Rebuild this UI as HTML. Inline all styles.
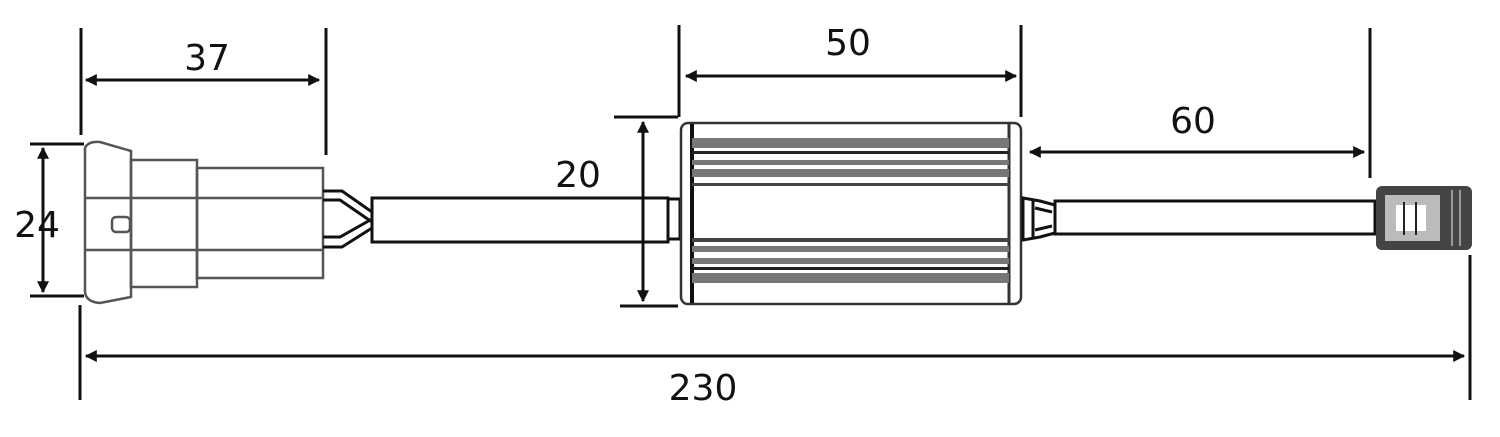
<!DOCTYPE html>
<html><head><meta charset="utf-8"><style>
html,body{margin:0;padding:0;background:#fff;}
svg{display:block}
text{font-family:"DejaVu Sans","Liberation Sans",sans-serif;font-size:36px;fill:#111}
</style></head><body>
<svg width="1500" height="437" viewBox="0 0 1500 437" xmlns="http://www.w3.org/2000/svg">
<defs>
<marker id="a" viewBox="0 0 10 10" refX="9" refY="5" markerWidth="4" markerHeight="4" orient="auto-start-reverse"><path d="M0,0 L10,5 L0,10 z" fill="#111"/></marker>
</defs>
<g stroke="#111" stroke-width="3" fill="none">
<!-- extension lines -->
<line x1="81" y1="28" x2="81" y2="135"/><line x1="80" y1="305" x2="80" y2="400"/>
<line x1="326" y1="28" x2="326" y2="155"/>
<line x1="679" y1="25" x2="679" y2="117"/>
<line x1="1021" y1="25" x2="1021" y2="117"/>
<line x1="1370" y1="28" x2="1370" y2="178"/>
<line x1="1470" y1="255" x2="1470" y2="400"/>
<!-- dims -->
<line x1="86" y1="80" x2="319" y2="80" marker-start="url(#a)" marker-end="url(#a)"/>
<line x1="686" y1="76" x2="1016" y2="76" marker-start="url(#a)" marker-end="url(#a)"/>
<line x1="1030" y1="152" x2="1364" y2="152" marker-start="url(#a)" marker-end="url(#a)"/>
<line x1="86" y1="356" x2="1464" y2="356" marker-start="url(#a)" marker-end="url(#a)"/>
<line x1="30" y1="144" x2="84" y2="144"/><line x1="30" y1="296" x2="84" y2="296"/>
<line x1="43" y1="148" x2="43" y2="292" marker-start="url(#a)" marker-end="url(#a)"/>
<line x1="614" y1="117" x2="678" y2="117"/><line x1="620" y1="306" x2="678" y2="306"/>
<line x1="643" y1="122" x2="643" y2="301" marker-start="url(#a)" marker-end="url(#a)"/>
</g>
<text x="207" y="70" text-anchor="middle">37</text>
<text x="848" y="55" text-anchor="middle">50</text>
<text x="1193" y="133" text-anchor="middle">60</text>
<text x="703" y="400" text-anchor="middle">230</text>
<text x="37" y="237" text-anchor="middle">24</text>
<text x="578" y="187" text-anchor="middle">20</text>
<!-- left connector -->
<g stroke="#555" stroke-width="2.5" fill="none">
<path d="M85,148 Q88,141 100,142 L131,151 L131,297 L100,303 Q86,302 85,292 Z"/>
<rect x="131" y="160" width="66" height="127"/>
<rect x="197" y="168" width="126" height="110"/>
<line x1="85" y1="198" x2="323" y2="198"/><line x1="85" y1="250" x2="323" y2="250"/>
<rect x="112" y="217" width="18" height="15" rx="4"/>
</g>
<g stroke="#111" stroke-width="3" fill="none">
<path d="M323,191 L342,191 L372,212 M323,200 L340,200 L372,222 M323,237 L340,237 L372,219 M323,247 L342,247 L372,228"/>
<rect x="372" y="198" width="296" height="44"/>
<rect x="668" y="199" width="12" height="40"/>
</g>
<!-- box -->
<g stroke="#333" stroke-width="2.5" fill="none">
<rect x="681" y="123" width="340" height="181" rx="7"/>
<line x1="692" y1="124" x2="692" y2="303" stroke-width="4" stroke="#111"/>
<line x1="1009" y1="124" x2="1009" y2="303" stroke-width="3"/>
</g>
<g fill="#777">
<rect x="692" y="138" width="317" height="10"/>
<rect x="692" y="151" width="317" height="3" fill="#222"/>
<rect x="692" y="160" width="317" height="5"/>
<rect x="692" y="169" width="317" height="8"/>
<rect x="692" y="183" width="317" height="3" fill="#444"/>
<rect x="692" y="238" width="317" height="4" fill="#444"/>
<rect x="692" y="246" width="317" height="6"/>
<rect x="692" y="258" width="317" height="6"/>
<rect x="692" y="267" width="317" height="3" fill="#222"/>
<rect x="692" y="273" width="317" height="10"/>
</g>
<!-- right side -->
<g stroke="#111" stroke-width="3" fill="none">
<path d="M1023,198 L1040,201 L1055,205 L1055,233 L1040,237 L1023,240 Z"/>
<line x1="1033" y1="200" x2="1033" y2="238"/>
<path d="M1035,208 L1052,212 M1035,230 L1052,226"/>
<rect x="1055" y="201" width="320" height="33"/>
</g>
<rect x="1376" y="186" width="96" height="64" rx="6" fill="#444"/>
<rect x="1385" y="195" width="55" height="46" fill="#bbb"/>
<rect x="1396" y="205" width="30" height="26" fill="#fff"/>
<g stroke="#222" stroke-width="2"><line x1="1404" y1="202" x2="1404" y2="235"/><line x1="1416" y1="202" x2="1416" y2="235"/><line x1="1452" y1="190" x2="1452" y2="246" stroke="#999"/><line x1="1460" y1="190" x2="1460" y2="246" stroke="#999"/></g>
</svg>
</body></html>
